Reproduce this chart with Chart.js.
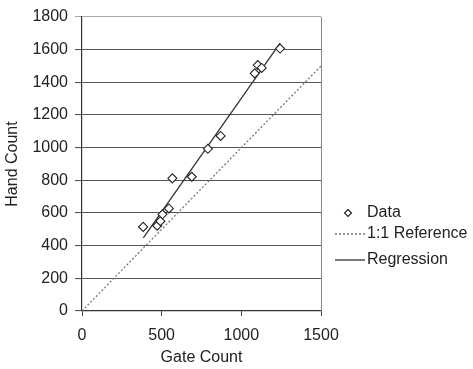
<!DOCTYPE html>
<html>
<head>
<meta charset="utf-8">
<script src="https://cdn.jsdelivr.net/npm/chart.js@4/dist/chart.umd.min.js"></script>
<style>
  html, body { margin: 0; padding: 0; background: #fff; }
  #wrap { width: 473px; height: 369px; position: relative; }
</style>
</head>
<body>
<div id="wrap"><canvas id="c" width="473" height="369"></canvas></div>
<script>
// ---- data ----
const gateCount = [384, 472, 492, 505, 545, 567, 689, 790, 870, 1084, 1103, 1128, 1243];
const handCount = [515, 522, 550, 592, 628, 812, 822, 993, 1072, 1455, 1506, 1488, 1607];
const referenceX = [0, 1500];
const referenceY = [0, 1500];
const regressionX = [385, 1243];
const regressionY = [448, 1640];
const xTickValues = [0, 500, 1000, 1500];
const yTickValues = [0, 200, 400, 600, 800, 1000, 1200, 1400, 1600, 1800];
const seriesNames = ['Data', '1:1 Reference', 'Regression'];
const xTitle = 'Gate Count';
const yTitle = 'Hand Count';

const toPts = (xs, ys) => xs.map((x, i) => ({ x: x, y: ys[i] }));
const FONT = "'Liberation Sans', Arial, Helvetica, sans-serif";
const TEXT = '#222';

// legend drawn beside the plot, styled from the datasets
const sideLegend = {
  id: 'sideLegend',
  afterDraw(chart) {
    const ctx = chart.ctx;
    const ca = chart.chartArea;
    const x0 = ca.right + 14, x1 = ca.right + 44, tx = ca.right + 46;
    const rows = [ca.top + 196, ca.top + 217, ca.top + 243];
    ctx.save();
    ctx.font = '16px ' + FONT;
    ctx.fillStyle = TEXT;
    ctx.textBaseline = 'middle';
    ctx.textAlign = 'left';
    chart.data.datasets.forEach((ds, i) => {
      const y = rows[i];
      if (i === 0) {
        const cx = (x0 + x1) / 2 - 2, r = 3.5;
        ctx.beginPath();
        ctx.moveTo(cx, y - r); ctx.lineTo(cx + r, y); ctx.lineTo(cx, y + r); ctx.lineTo(cx - r, y); ctx.closePath();
        ctx.fillStyle = '#fff'; ctx.fill();
        ctx.lineWidth = 1.2; ctx.strokeStyle = ds.borderColor; ctx.stroke();
      } else {
        ctx.beginPath();
        ctx.setLineDash(ds.borderDash || []);
        ctx.lineWidth = ds.borderWidth; ctx.strokeStyle = ds.borderColor;
        ctx.moveTo(x0, y); ctx.lineTo(x1, y); ctx.stroke();
        ctx.setLineDash([]);
      }
      ctx.fillStyle = TEXT;
      ctx.fillText(ds.label, tx, y);
    });
    ctx.restore();
  }
};

new Chart(document.getElementById('c'), {
  type: 'scatter',
  data: {
    datasets: [
      {
        label: seriesNames[0],
        data: toPts(gateCount, handCount),
        pointStyle: 'rectRot',
        pointRadius: 4.5,
        pointHoverRadius: 4.5,
        borderColor: '#222',
        backgroundColor: '#fff',
        borderWidth: 1.1,
        showLine: false
      },
      {
        label: seriesNames[1],
        data: toPts(referenceX, referenceY),
        showLine: true,
        borderColor: '#777',
        borderWidth: 1.3,
        borderDash: [2, 2],
        pointRadius: 0,
        fill: false
      },
      {
        label: seriesNames[2],
        data: toPts(regressionX, regressionY),
        showLine: true,
        borderColor: '#333',
        borderWidth: 1.3,
        pointRadius: 0,
        fill: false
      }
    ]
  },
  options: {
    responsive: false,
    animation: false,
    devicePixelRatio: 1,
    layout: { padding: { left: 0, right: 152, top: 17, bottom: 0 } },
    plugins: {
      legend: { display: false },
      tooltip: { enabled: false }
    },
    scales: {
      x: {
        type: 'linear',
        min: 0, max: 1500,
        afterBuildTicks: (s) => { s.ticks = xTickValues.map(v => ({ value: v })); },
        afterFit: (s) => { s.height = 58; },
        ticks: { color: TEXT, font: { family: FONT, size: 16 }, padding: 10, maxRotation: 0, callback: (v) => String(v) },
        grid: { drawOnChartArea: false, drawTicks: true, tickLength: 5, color: '#444' },
        border: { display: true, color: '#333', width: 1.2 },
        title: { display: true, text: xTitle, color: TEXT, font: { family: FONT, size: 16 }, padding: { top: 0, bottom: 2 } }
      },
      y: {
        type: 'linear',
        min: 0, max: 1800,
        afterBuildTicks: (s) => { s.ticks = yTickValues.map(v => ({ value: v })); },
        afterFit: (s) => { s.width = 82; },
        ticks: { color: TEXT, font: { family: FONT, size: 16 }, padding: 7, callback: (v) => String(v) },
        grid: {
          drawOnChartArea: true, drawTicks: true, tickLength: 7,
          color: (c) => (c.tick && c.tick.value === 1800 ? '#aaa' : '#555'),
          lineWidth: 1.1
        },
        border: { display: true, color: '#333', width: 1.2 },
        title: { display: true, text: yTitle, color: TEXT, font: { family: FONT, size: 16 }, padding: { top: 3, bottom: 0 } }
      }
    }
  },
  plugins: [sideLegend, {
    id: 'rightEdge',
    afterDatasetsDraw(chart) {
      const ctx = chart.ctx, ca = chart.chartArea;
      ctx.save();
      ctx.strokeStyle = '#888'; ctx.lineWidth = 1;
      ctx.beginPath();
      ctx.moveTo(Math.round(ca.right) + 0.5, ca.top);
      ctx.lineTo(Math.round(ca.right) + 0.5, ca.bottom);
      ctx.stroke();
      ctx.restore();
    }
  }]
});
</script>
</body>
</html>
